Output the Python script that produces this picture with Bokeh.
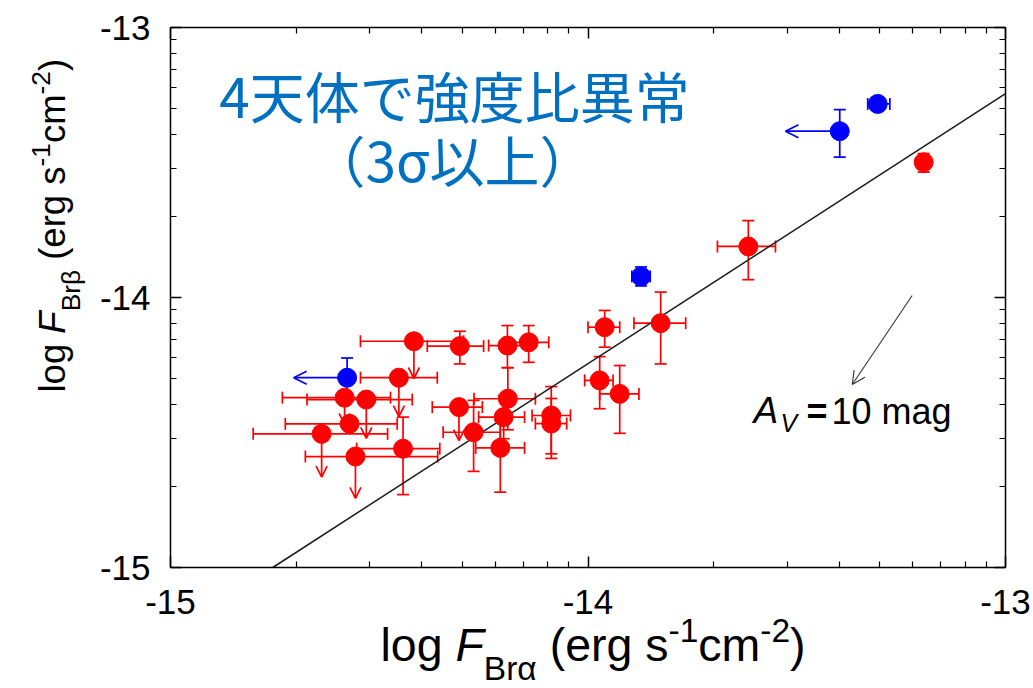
import math
import numpy as np
from bokeh.plotting import figure
from bokeh.models import (ColumnDataSource, Range1d, FixedTicker, LinearAxis,
                          Whisker, TeeHead, Arrow, OpenHead, Label)
from bokeh.embed import file_html
from bokeh.resources import INLINE

nan = float("nan")

# log10 line fluxes (erg s^-1 cm^-2): x = Br-alpha, y = Br-beta
red_x = [-13.196, -13.616, -13.826, -13.960, -13.972, -13.924, -14.417, -14.307,
         -14.193, -14.142, -14.453, -14.583, -14.531, -14.571, -14.638, -14.557,
         -14.443, -14.309, -14.274, -14.192, -14.202, -14.210, -14.088, -14.088]
red_y = [-13.499, -13.811, -14.095, -14.110, -14.307, -14.357, -14.162, -14.180,
         -14.178, -14.166, -14.297, -14.371, -14.378, -14.468, -14.505, -14.589,
         -14.560, -14.406, -14.499, -14.375, -14.443, -14.557, -14.437, -14.467]
red_xlo = [nan, -13.690, -13.890, -14.000, -14.008, -13.972, -14.545, -14.385,
           -14.238, -14.193, -14.545, -14.732, -14.673, -14.725, -14.802, -14.677,
           -14.554, -14.373, -14.347, -14.273, -14.262, -14.269, -14.134, -14.126]
red_xhi = [nan, -13.551, -13.766, -13.924, -13.940, -13.878, -14.298, -14.250,
           -14.150, -14.094, -14.361, -14.473, -14.421, -14.457, -14.480, -14.360,
           -14.355, -14.253, -14.210, -14.126, -14.152, -14.152, -14.042, -14.051]
red_ylo = [-13.536, -13.934, -14.246, -14.184, -14.412, -14.503, nan, -14.246,
           -14.260, -14.240, nan, nan, nan, nan, nan, nan,
           -14.730, nan, -14.644, -14.490, -14.523, -14.721, -14.579, -14.596]
red_yhi = [-13.467, -13.715, -13.980, -14.048, -14.219, -14.252, nan, -14.125,
           -14.104, -14.104, nan, nan, nan, nan, nan, nan,
           -14.443, nan, -14.381, -14.260, -14.363, -14.456, -14.330, -14.374]
# Br-beta upper limits (arrow tip)
red_ylim = [nan, nan, nan, nan, nan, nan, -14.300, nan,
            nan, nan, -14.441, -14.470, -14.522, nan, -14.665, -14.744,
            nan, -14.530, nan, nan, nan, nan, nan, nan]

# the four objects with anomalous line ratios
blue_x = [-14.577, -13.873, -13.397, -13.306]
blue_y = [-14.297, -13.922, -13.384, -13.283]
blue_xlo = [nan, -13.895, nan, -13.330]
blue_xhi = [nan, -13.851, nan, -13.277]
blue_ylo = [-14.381, -13.957, -13.480, nan]
blue_yhi = [-14.224, -13.887, -13.304, nan]
# Br-alpha upper limits (arrow tip)
blue_xlim = [-14.705, nan, -13.527, nan]

# intrinsic ratio line: log F(Br-beta) = slope * log F(Br-alpha) + offset
line_slope = 1.0
line_offset = -0.245

# reddening vector for A_V = 10 mag
av_x = [-13.2235, -13.367]
av_y = [-13.9926, -14.322]

# axis extent (log flux) and labelled decades
x_lim = (-15.0, -13.0)
y_lim = (-15.0, -13.0)
x_ticks = [-15, -14, -13]
y_ticks = [-15, -14, -13]
tick_text = {t: str(t) for t in (-15, -14, -13)}

RED = "#ff0000"
BLUE = "#0000ff"
TITLE_BLUE = "#0070c0"

# plotting box in page pixels; the canvas around it holds the axis titles
W, H = 1033, 688
X0, X1, Y0, Y1 = 170, 1005, 27, 567


def sx(px):
    return x_lim[0] + (px - X0) / (X1 - X0) * (x_lim[1] - x_lim[0])


def sy(py):
    return y_lim[1] - (py - Y0) / (Y1 - Y0) * (y_lim[1] - y_lim[0])


p = figure(width=W, height=H, x_range=Range1d(sx(0), sx(W)), y_range=Range1d(sy(H), sy(0)),
           output_backend="svg", toolbar_location=None, title=None,
           x_axis_location=None, y_axis_location=None, min_border=0)
p.xgrid.visible = False
p.ygrid.visible = False
p.outline_line_color = None
p.background_fill_color = "white"
p.border_fill_color = "white"

decade_minor = [e + math.log10(k) for e in (-15, -14) for k in range(2, 10)]


def make_axis(ticks, at, bounds, show_labels, standoff):
    ax = LinearAxis(ticker=FixedTicker(ticks=ticks, minor_ticks=decade_minor),
                    fixed_location=at, bounds=bounds)
    ax.axis_line_color = "black"
    ax.axis_line_width = 1.5
    ax.major_tick_in = 11
    ax.major_tick_out = 0
    ax.minor_tick_in = 6
    ax.minor_tick_out = 0
    ax.major_tick_line_width = 1.5
    ax.minor_tick_line_width = 1.2
    ax.major_label_overrides = dict(tick_text)
    ax.major_label_text_font = "Liberation Sans"
    ax.major_label_text_font_size = "35px"
    ax.major_label_standoff = standoff
    ax.major_label_text_color = "black" if show_labels else None
    return ax


p.add_layout(make_axis(x_ticks, y_lim[0], x_lim, True, 22), "below")
p.add_layout(make_axis(y_ticks, x_lim[0], y_lim, True, 20), "left")
p.add_layout(make_axis(x_ticks, y_lim[1], x_lim, False, 0), "above")
p.add_layout(make_axis(y_ticks, x_lim[1], y_lim, False, 0), "right")

# ratio line, kept inside the axis box
x_start = max(x_lim[0], (y_lim[0] - line_offset) / line_slope)
x_stop = min(x_lim[1], (y_lim[1] - line_offset) / line_slope)
lx = np.array([x_start, x_stop])
p.line(lx, line_slope * lx + line_offset, line_color="#1a1a1a", line_width=1.5)


def bars(pos, base, lo, hi):
    keep = [i for i in range(len(pos)) if not (math.isnan(lo[i]) or math.isnan(hi[i]))]
    return ColumnDataSource(dict(base=[base[i] for i in keep],
                                 lo=[lo[i] for i in keep], hi=[hi[i] for i in keep]))


def limits(xs, ys, lim):
    keep = [i for i in range(len(xs)) if not math.isnan(lim[i])]
    return ColumnDataSource(dict(x=[xs[i] for i in keep], y=[ys[i] for i in keep],
                                 lim=[lim[i] for i in keep]))


def add_errors(xs, ys, xlo, xhi, ylo, yhi, color):
    for src, dim in ((bars(xs, ys, xlo, xhi), "width"), (bars(ys, xs, ylo, yhi), "height")):
        p.add_layout(Whisker(source=src, base="base", lower="lo", upper="hi",
                             dimension=dim, line_color=color, line_width=1.7,
                             level="underlay",
                             upper_head=TeeHead(size=12, line_color=color, line_width=1.7),
                             lower_head=TeeHead(size=12, line_color=color, line_width=1.7)))


add_errors(red_x, red_y, red_xlo, red_xhi, red_ylo, red_yhi, RED)
add_errors(blue_x, blue_y, blue_xlo, blue_xhi, blue_ylo, blue_yhi, BLUE)

red_lim = limits(red_x, red_y, red_ylim)
p.add_layout(Arrow(source=red_lim, x_start="x", y_start="y", x_end="x", y_end="lim",
                   line_color=RED, line_width=1.7, level="underlay",
                   end=OpenHead(size=11, line_color=RED, line_width=1.7)))
blue_lim = limits(blue_x, blue_y, blue_xlim)
p.add_layout(Arrow(source=blue_lim, x_start="x", y_start="y", x_end="lim", y_end="y",
                   line_color=BLUE, line_width=1.7, level="underlay",
                   end=OpenHead(size=13, line_color=BLUE, line_width=1.7)))

p.scatter(red_x, red_y, marker="circle", size=19, fill_color=RED, line_color=RED)
p.scatter(blue_x, blue_y, marker="circle", size=19, fill_color=BLUE, line_color=BLUE)

# reddening vector
p.add_layout(Arrow(x_start=av_x[0], y_start=av_y[0], x_end=av_x[1], y_end=av_y[1],
                   line_color="#333333", line_width=1.1,
                   end=OpenHead(size=13, line_color="#333333", line_width=1.1)))

# alphabetic anchors land about this fraction of the font size below the baseline
BASE_FIX = 0.37


def label(px, py, text, size, font="Liberation Sans", style="normal", color="black",
          align="left", baseline="alphabetic", angle=0.0, vertical=False):
    if baseline == "alphabetic":
        if vertical:
            px -= BASE_FIX * size
        else:
            py -= BASE_FIX * size
    p.add_layout(Label(x=sx(px), y=sy(py), text=text, text_font=font,
                       text_font_size=f"{size}px", text_font_style=style,
                       text_color=color, text_align=align, text_baseline=baseline,
                       angle=angle))


label(753, 424, "A", 37, style="italic")
label(780, 432, "V", 25, style="italic")
label(806, 424, "=", 36, style="bold")
label(831, 424, "10 mag", 36)

label(454, 93, "4天体で強度比異常", 55, font="Noto Sans CJK JP", color=TITLE_BLUE,
      align="center", baseline="middle")
label(452, 157, "（3σ以上）", 55, font="Noto Sans CJK JP", color=TITLE_BLUE,
      align="center", baseline="middle")

# axis titles, set piece by piece for the sub- and superscripts
EM = {"l": .222, "o": .556, "g": .556, " ": .278, "F": .611, "B": .667, "r": .333,
      "α": .578, "β": .575, "(": .333, "e": .556, "s": .5, "-": .333, "1": .556,
      "c": .5, "m": .833, "2": .556, ")": .333}
AXIS_FONT = "Liberation Sans"


def title_pieces(greek):
    return [("log", 1.0, "normal", 0.0), (" ", 1.0, None, 0.0),
            ("F", 1.0, "italic", 0.0), ("Br" + greek, 0.72, "normal", 0.40),
            (" ", 1.0, None, 0.0), ("(erg s", 1.0, "normal", 0.0),
            ("-1", 0.72, "normal", -0.42), ("cm", 1.0, "normal", 0.0),
            ("-2", 0.72, "normal", -0.42), (")", 1.0, "normal", 0.0)]


def set_title(pieces, start, base, size, vertical):
    pos = start
    for text, scale, style, shift in pieces:
        fs = round(size * scale, 1)
        if style is not None:
            if vertical:
                label(base + shift * size, pos, text, fs, font=AXIS_FONT,
                      style=style, angle=math.pi / 2, vertical=True)
            else:
                label(pos, base + shift * size, text, fs, font=AXIS_FONT, style=style)
        step = sum(EM.get(ch, .55) for ch in text) * fs
        pos = pos - step if vertical else pos + step


set_title(title_pieces("α"), 380, 662, 46.5, vertical=False)
set_title(title_pieces("β"), 392, 66, 36.5, vertical=True)

open("out.html", "w").write(file_html(p, INLINE))
